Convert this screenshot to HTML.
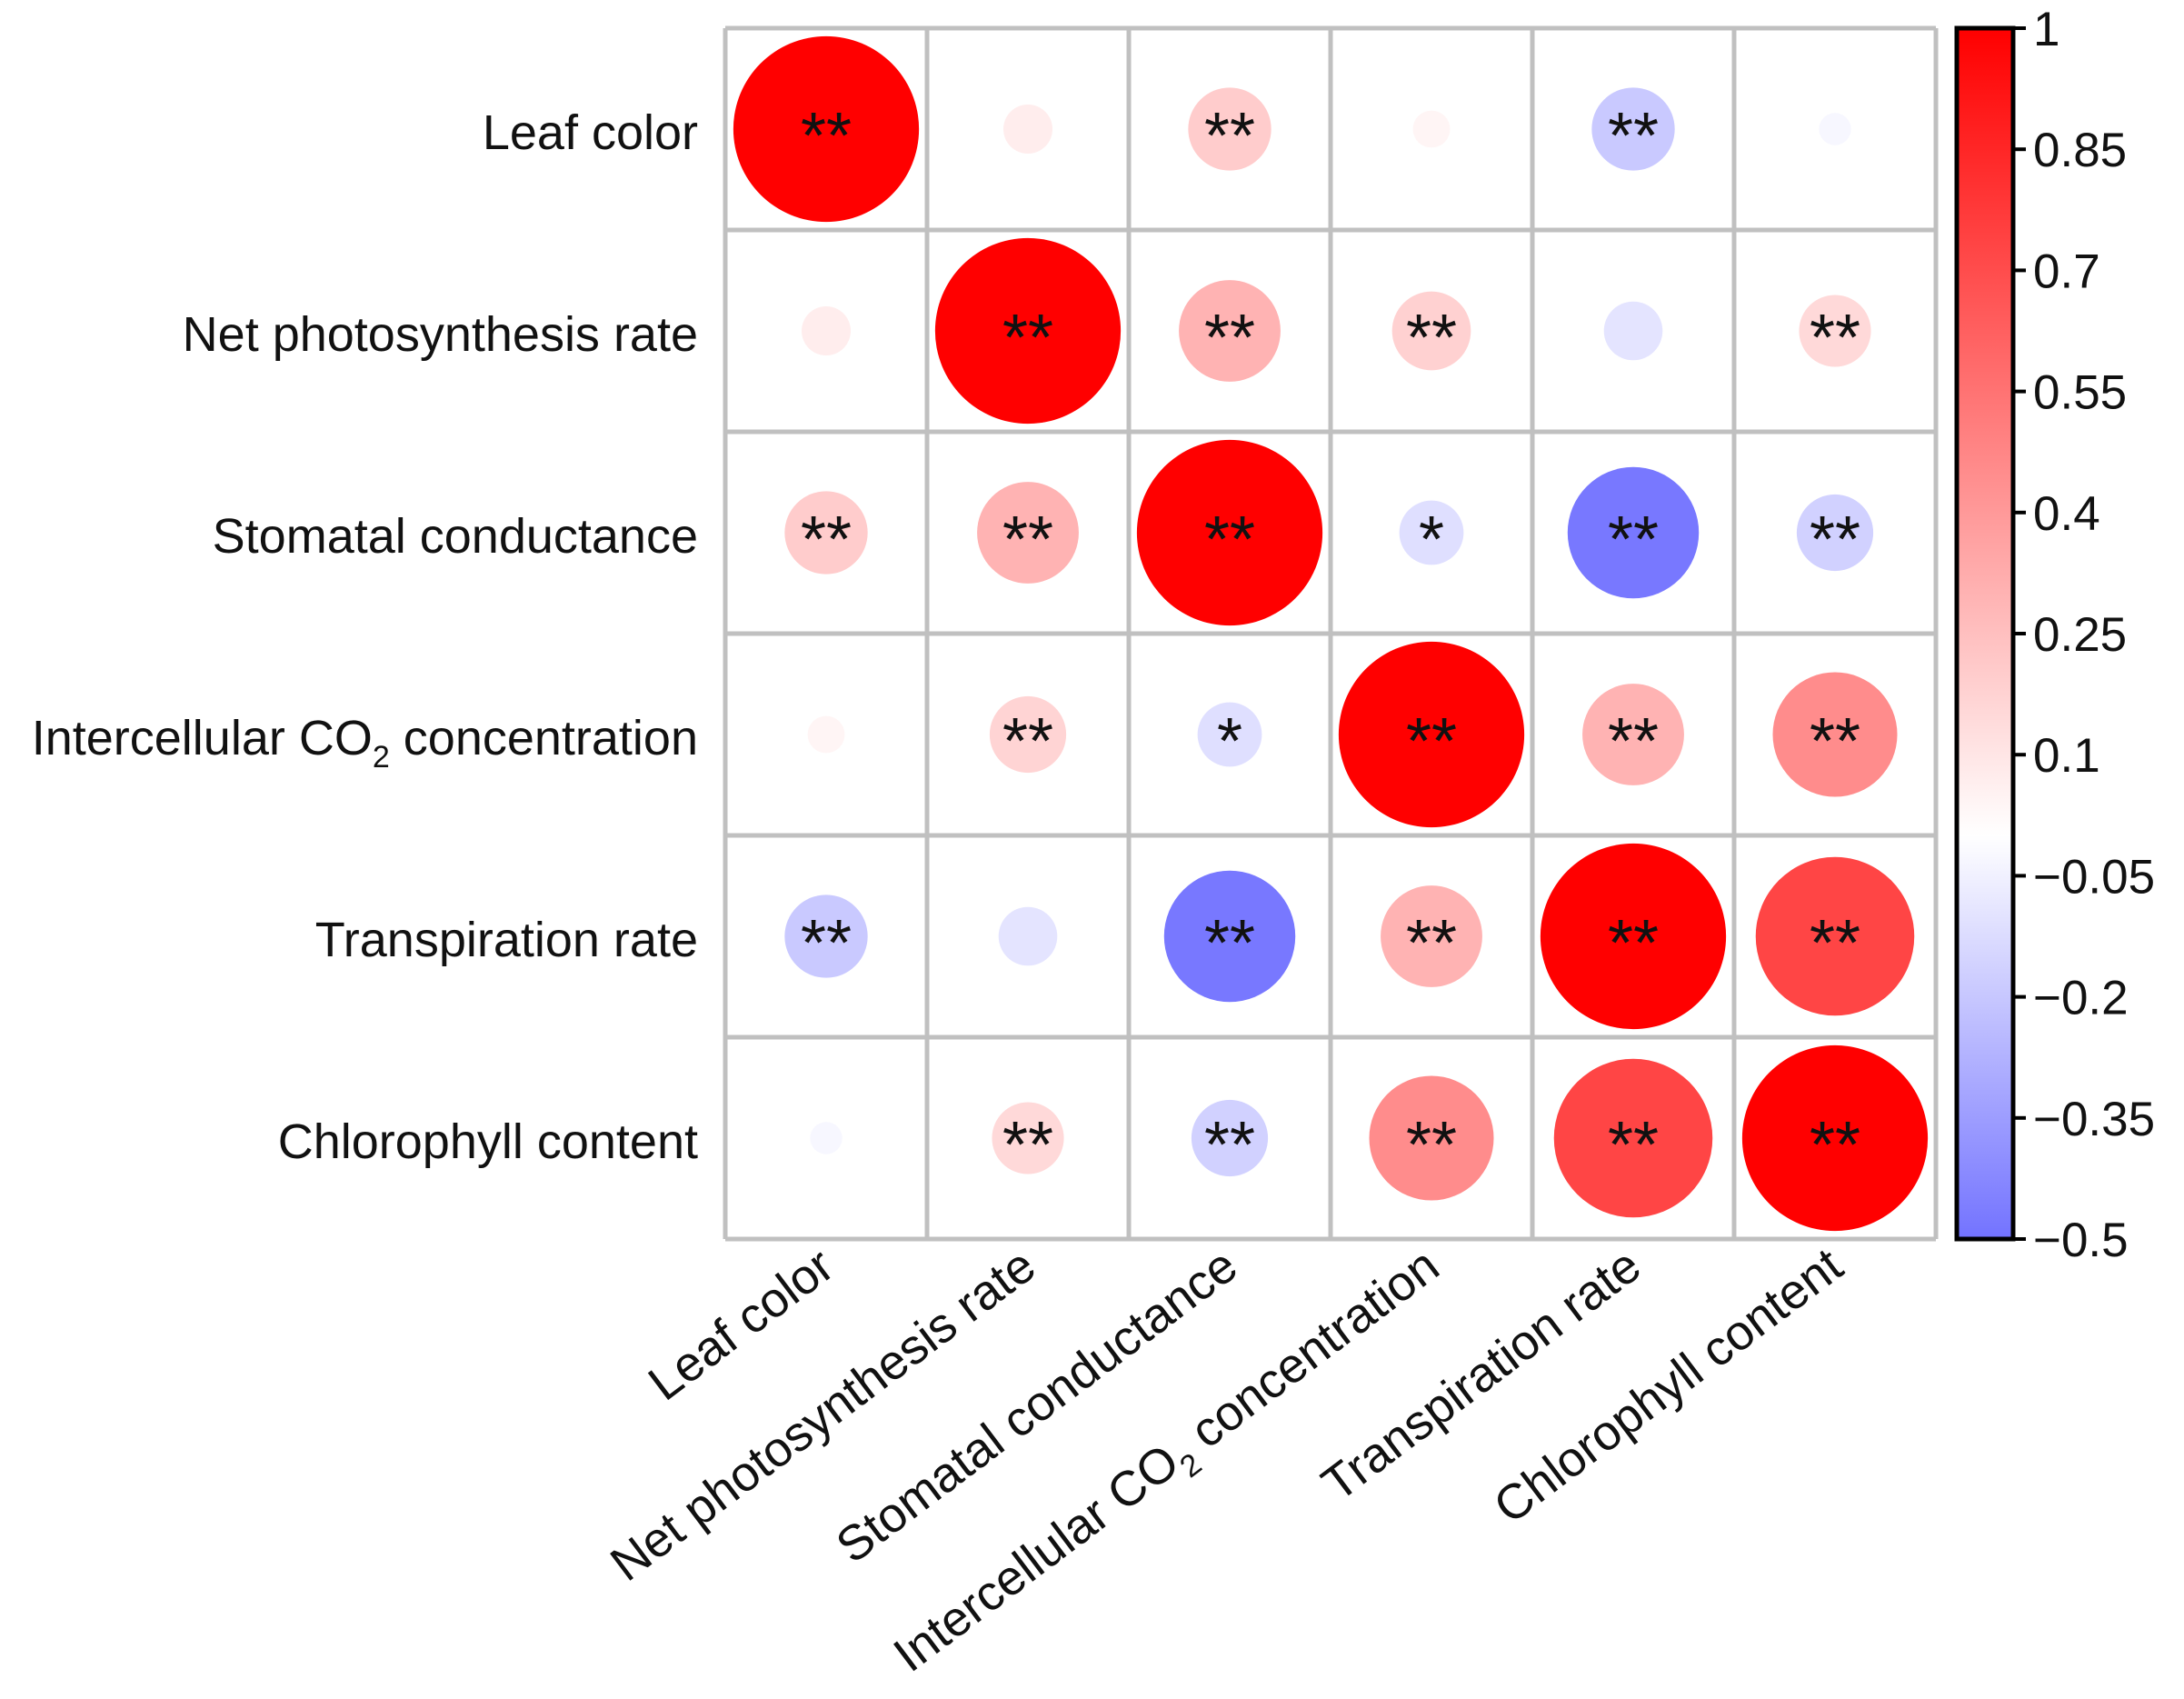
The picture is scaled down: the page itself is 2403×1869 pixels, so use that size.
<!DOCTYPE html>
<html><head><meta charset="utf-8"><style>html,body{margin:0;padding:0;background:#fff}svg{display:block}</style></head>
<body>
<svg id="chart" xmlns="http://www.w3.org/2000/svg" width="2403" height="1869" viewBox="0 0 2403 1869" font-family="Liberation Sans, Arial, sans-serif">
<defs>
<linearGradient id="cbar" x1="0" y1="1" x2="0" y2="0">
<stop offset="0" stop-color="#7373ff"/>
<stop offset="0.3333" stop-color="#ffffff"/>
<stop offset="1" stop-color="#ff0000"/>
</linearGradient>
</defs>
<g id="grid"></g>
<g id="marks"></g>
<g id="labels"></g>
<g id="colorbar"></g>
</svg>
<script>
const variables = ["Leaf color","Net photosynthesis rate","Stomatal conductance","Intercellular CO2 concentration","Transpiration rate","Chlorophyll content"];
const corrValues = [
 [1, 0.07, 0.2, 0.04, -0.2, -0.03],
 [0.07, 1, 0.3, 0.18, -0.1, 0.15],
 [0.2, 0.3, 1, -0.12, -0.5, -0.17],
 [0.04, 0.17, -0.12, 1, 0.3, 0.45],
 [-0.2, -0.1, -0.5, 0.3, 1, 0.73],
 [-0.03, 0.15, -0.17, 0.45, 0.73, 1]
];
const sigMarks = [
 ["**","","**","","**",""],
 ["","**","**","**","","**"],
 ["**","**","**","*","**","**"],
 ["","**","*","**","**","**"],
 ["**","","**","**","**","**"],
 ["","**","**","**","**","**"]
];
const cbTicks = [1,0.85,0.7,0.55,0.4,0.25,0.1,-0.05,-0.2,-0.35,-0.5];

const NS="http://www.w3.org/2000/svg";
const L=798,T=31,S=222,N=variables.length;
const maxR=S*0.46;
function mk(tag,attrs,parent){const e=document.createElementNS(NS,tag);for(const k in attrs)e.setAttribute(k,attrs[k]);parent.appendChild(e);return e;}
function cx(i){return L+S*(i+0.5);}
function cy(i){return T+S*(i+0.5);}
function color(v){
  let r,g,b;
  if(v>=0){const t=Math.min(v,1);r=255;g=Math.round(255*(1-t));b=g;}
  else{const t=Math.min(-v/0.5,1);r=Math.round(255-(255-120)*t);g=r;b=255;}
  return `rgb(${r},${g},${b})`;
}
const grid=document.getElementById('grid');
for(let i=0;i<=N;i++){
  const ln=mk('line',{x1:L+S*i,y1:T,x2:L+S*i,y2:T+S*N,stroke:'#c0c0c0','stroke-width':5},grid);
  
  
  const lh=mk('line',{x1:L,y1:T+S*i,x2:L+S*N,y2:T+S*i,stroke:'#c0c0c0','stroke-width':5},grid);
  
  
}
const marks=document.getElementById('marks');
for(let r=0;r<N;r++)for(let c=0;c<N;c++){
  const v=corrValues[r][c];
  const rad=maxR*Math.sqrt(Math.abs(v));
  const ci=mk('circle',{cx:cx(c),cy:cy(r),r:rad,fill:color(v)},marks);
  
  
  if(sigMarks[r][c]){
    const t=mk('text',{x:cx(c),y:cy(r)+32,'text-anchor':'middle','font-size':72,fill:'#111'},marks);
    t.textContent=sigMarks[r][c];
    
    
  }
}
const labels=document.getElementById('labels');
function addLabel(parent,name){
  if(name.includes('CO2')){
    const p=name.split('CO2');
    parent.appendChild(document.createTextNode(p[0]+'CO'));
    const s=mk('tspan',{'font-size':34,dy:14},parent);s.textContent='2';
    const s2=mk('tspan',{dy:-14},parent);s2.textContent=p[1];
  } else parent.textContent=name;
}
for(let i=0;i<N;i++){
  const t=mk('text',{x:768,y:cy(i)+22,'text-anchor':'end','font-size':54,fill:'#111'},labels);
  addLabel(t,variables[i]);
  
  
  const x=cx(i)+12,y=1400;
  const tx=mk('text',{x:x,y:y,'text-anchor':'end','font-size':54,fill:'#111',transform:`rotate(-37 ${x} ${y})`},labels);
  addLabel(tx,variables[i]);
  
  
}
const cb=document.getElementById('colorbar');
const cbX=2153,cbW=62,cbT=T,cbB=T+S*N;
const rect=mk('rect',{x:cbX,y:cbT,width:cbW,height:cbB-cbT,fill:'url(#cbar)',stroke:'#000','stroke-width':5},cb);


function cbY(v){return cbB-(v+0.5)/1.5*(cbB-cbT);}
cbTicks.forEach(v=>{
  const y=cbY(v);
  const tk=mk('line',{x1:cbX+cbW,x2:cbX+cbW+14,y1:y,y2:y,stroke:'#000','stroke-width':4},cb);
  
  
  const t=mk('text',{x:cbX+cbW+22,y:y+19,'font-size':53,fill:'#111'},cb);
  t.textContent=(v<0?'\u2212':'')+String(Math.abs(v));
  
  
});
</script>
</body></html>
